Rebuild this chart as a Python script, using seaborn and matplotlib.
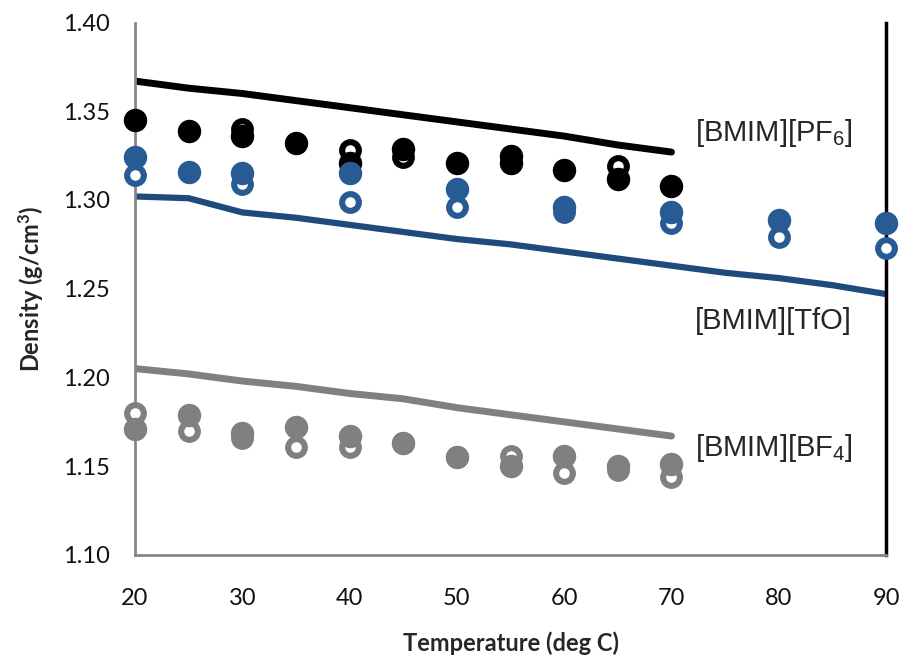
import numpy as np
import pandas as pd
import matplotlib
matplotlib.use('Agg')
import matplotlib.pyplot as plt
import seaborn as sns

# model lines (T in deg C, density g/cm3)
t_pf6_line = [20, 25, 30, 35, 40, 45, 50, 55, 60, 65, 70]
d_pf6_line = [1.367, 1.363, 1.360, 1.356, 1.352, 1.348, 1.344, 1.340, 1.336, 1.331, 1.327]

t_tfo_line = [20, 25, 30, 35, 40, 45, 50, 55, 60, 65, 70, 75, 80, 85, 90]
d_tfo_line = [1.302, 1.301, 1.293, 1.290, 1.286, 1.282, 1.278, 1.275, 1.271, 1.267,
              1.263, 1.259, 1.256, 1.252, 1.247]

t_bf4_line = [20, 25, 30, 35, 40, 45, 50, 55, 60, 65, 70]
d_bf4_line = [1.205, 1.202, 1.198, 1.195, 1.191, 1.188, 1.183, 1.179, 1.175, 1.171, 1.167]

# experimental points, filled and open
t_pf6_fill = [20, 25, 30, 35, 40, 45, 50, 55, 55, 60, 65, 70]
d_pf6_fill = [1.345, 1.339, 1.336, 1.332, 1.321, 1.329, 1.321, 1.325, 1.321, 1.317, 1.312, 1.308]
t_pf6_open = [30, 40, 45, 65]
d_pf6_open = [1.340, 1.328, 1.324, 1.319]

t_tfo_fill = [20, 25, 30, 40, 50, 60, 70, 80, 90]
d_tfo_fill = [1.324, 1.316, 1.315, 1.315, 1.306, 1.296, 1.293, 1.289, 1.287]
t_tfo_open = [20, 30, 40, 50, 60, 70, 80, 90]
d_tfo_open = [1.314, 1.309, 1.299, 1.296, 1.293, 1.287, 1.279, 1.273]

t_bf4_fill = [20, 25, 30, 35, 40, 45, 50, 55, 60, 65, 70]
d_bf4_fill = [1.171, 1.179, 1.169, 1.172, 1.167, 1.163, 1.155, 1.150, 1.156, 1.150, 1.151]
t_bf4_open = [20, 25, 30, 35, 40, 45, 50, 55, 60, 65, 70]
d_bf4_open = [1.180, 1.170, 1.166, 1.161, 1.161, 1.163, 1.155, 1.156, 1.146, 1.148, 1.144]

labels = ['[BMIM][PF$_6$]', '[BMIM][TfO]', '[BMIM][BF$_4$]']
label_pos = [(72.2, 1.338), (72.2, 1.232), (72.2, 1.160)]

BLACK = '#000000'
BLUE_LINE = '#1F4A7C'
BLUE = '#285B93'
GREY = '#808080'

sns.set_style('white')
plt.rcParams['font.family'] = ['Lato', 'DejaVu Sans']
plt.rcParams['mathtext.fontset'] = 'custom'
plt.rcParams['mathtext.rm'] = 'Liberation Sans'
plt.rcParams['mathtext.default'] = 'regular'

fig = plt.figure(figsize=(9.02, 6.66), dpi=100)
ax = fig.add_axes([0.1497, 0.1667, 0.8326, 0.7995])

for t, d, c, lw in [(t_pf6_line, d_pf6_line, BLACK, 5),
                    (t_tfo_line, d_tfo_line, BLUE_LINE, 4.5),
                    (t_bf4_line, d_bf4_line, GREY, 5)]:
    sns.lineplot(x=t, y=d, color=c, linewidth=lw, ax=ax, solid_capstyle='round')

groups = [(t_pf6_open, d_pf6_open, t_pf6_fill, d_pf6_fill, BLACK),
          (t_tfo_open, d_tfo_open, t_tfo_fill, d_tfo_fill, BLUE),
          (t_bf4_open, d_bf4_open, t_bf4_fill, d_bf4_fill, GREY)]
for to, do, tf, df, c in groups:
    sns.scatterplot(x=to, y=do, s=145, facecolor='white', edgecolor=c, linewidth=4.4,
                    ax=ax, clip_on=False, zorder=3)
    sns.scatterplot(x=tf, y=df, s=285, color=c, edgecolor=c, linewidth=0,
                    ax=ax, clip_on=False, zorder=4)

for txt, (x, y) in zip(labels, label_pos):
    ax.text(x, y, txt, fontsize=21, family='Liberation Sans', va='center', ha='left')

ax.set_xlim(20, 90)
ax.set_ylim(1.10, 1.40)
ax.set_xticks(range(20, 91, 10))
ax.set_yticks(np.arange(1.10, 1.401, 0.05))
ax.set_yticklabels([f'{v:.2f}' for v in np.arange(1.10, 1.401, 0.05)])

for side in ['left', 'bottom']:
    ax.spines[side].set_color('#868686')
    ax.spines[side].set_linewidth(2)
ax.spines['top'].set_visible(False)
ax.spines['right'].set_color('black')
ax.spines['right'].set_linewidth(2.5)

ax.tick_params(axis='both', which='both', direction='out', length=6, width=2,
               color='#868686', labelsize=17, labelcolor='#111111')
ax.tick_params(axis='x', pad=18)
ax.tick_params(axis='y', pad=12)
ax.tick_params(right=False, top=False)

ax.set_xlabel('Temperature (deg C)', fontsize=17, fontweight='bold', labelpad=16)
ax.set_ylabel('Density (g/cm$^3$)', fontsize=17, fontweight='bold', labelpad=12)

fig.savefig('out.png', dpi=100)
